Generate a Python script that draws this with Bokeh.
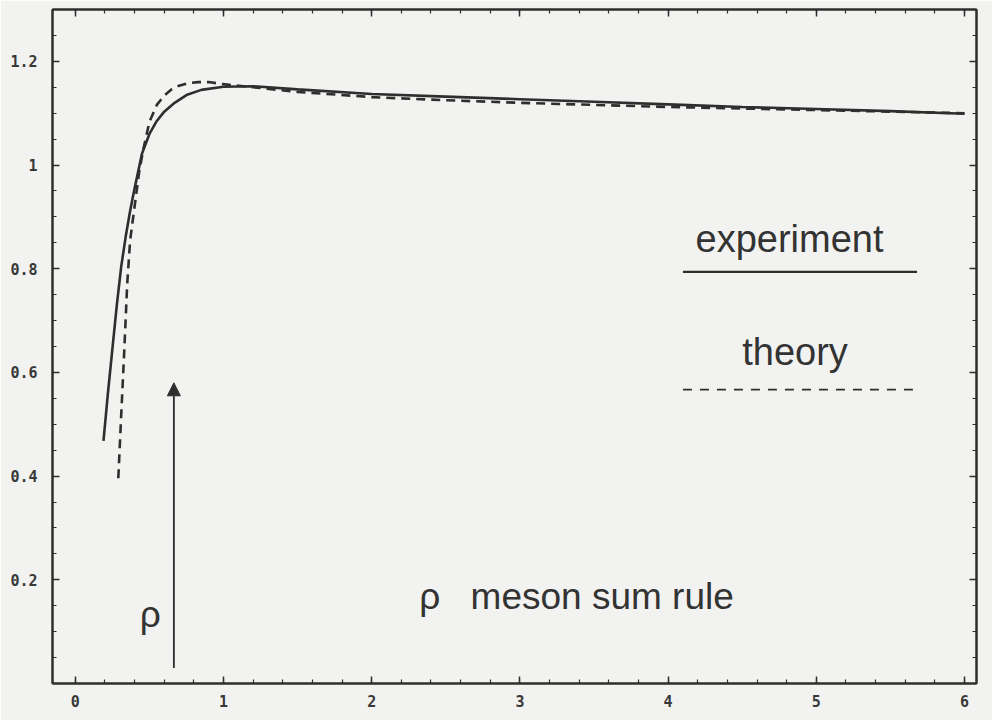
from bokeh.plotting import figure
from bokeh.models import (LinearAxis, FixedTicker, Arrow, NormalHead, Range1d,
                          CustomLabelingPolicy)
from bokeh.core.properties import value
from bokeh.embed import file_html
from bokeh.resources import INLINE
import numpy as np

# rho meson sum rule: experiment vs theory
exp_x = [0.19, 0.22, 0.25, 0.28, 0.31, 0.34, 0.37, 0.40, 0.45, 0.50, 0.55, 0.60,
         0.67, 0.75, 0.85, 1.0, 1.2, 1.5, 2.0, 2.5, 3.0, 3.5, 4.0, 4.5, 5.0, 5.5, 6.0]
exp_y = [0.468, 0.56, 0.645, 0.73, 0.805, 0.862, 0.912, 0.955, 1.022, 1.06, 1.085, 1.103,
         1.12, 1.135, 1.145, 1.151, 1.152, 1.146, 1.137, 1.132, 1.127, 1.122, 1.117,
         1.112, 1.108, 1.104, 1.099]

thy_x = [0.29, 0.31, 0.33, 0.35, 0.37, 0.40, 0.43, 0.46, 0.50, 0.55, 0.60, 0.65,
         0.70, 0.76, 0.83, 0.90, 1.0, 1.2, 1.5, 2.0, 2.5, 3.0, 3.5, 4.0, 4.5, 5.0, 5.5, 6.0]
thy_y = [0.396, 0.52, 0.64, 0.77, 0.855, 0.92, 0.985, 1.032, 1.083, 1.116, 1.134, 1.146,
         1.153, 1.158, 1.160, 1.160, 1.156, 1.150, 1.141, 1.131, 1.125, 1.120, 1.116,
         1.112, 1.109, 1.106, 1.103, 1.100]

# rho mass marker
rho_x = 0.665
rho_y0, rho_y1 = 0.03, 0.58

# legend samples
legend_x = [4.10, 5.68]
legend_exp_y = 0.794
legend_thy_y = 0.567

x_ticks = [0, 1, 2, 3, 4, 5, 6]
y_ticks = [0.2, 0.4, 0.6, 0.8, 1.0, 1.2]
y_labels = ["0.2", "0.4", "0.6", "0.8", "1", "1.2"]

x_minor = [round(v, 2) for v in np.arange(0, 6.01, 0.2)]
y_minor = [round(v, 2) for v in np.arange(0.05, 1.30, 0.05)]

BG = "#f2f2f0"
INK = "#2e2e2e"

p = figure(width=992, height=720, output_backend="svg", toolbar_location=None,
           x_range=Range1d(-0.154, 6.081), y_range=Range1d(0.0, 1.30),
           min_border_left=52, min_border_right=16, min_border_top=9, min_border_bottom=37,
           background_fill_color=BG, border_fill_color=BG)
p.grid.visible = False
p.outline_line_color = INK
p.outline_line_width = 2

# frame sides without numbers: keep the ticks, drop every label
no_labels = CustomLabelingPolicy(code="return new Set()")


def style_axis(ax, show_labels):
    ax.axis_line_color = INK
    ax.axis_line_width = 2
    ax.major_tick_line_color = INK
    ax.minor_tick_line_color = INK
    ax.major_tick_line_width = 1.5
    ax.minor_tick_line_width = 1.2
    ax.major_tick_in = 7
    ax.major_tick_out = 0
    ax.minor_tick_in = 4
    ax.minor_tick_out = 0
    ax.major_label_text_font = "DejaVu Sans Mono"
    ax.major_label_text_font_style = "bold"
    ax.major_label_text_font_size = "15px"
    ax.major_label_text_color = "#383838"
    if not show_labels:
        ax.major_label_policy = no_labels
        ax.major_label_standoff = 0
        ax.major_label_text_font_size = "1px"


p.xaxis.ticker = FixedTicker(ticks=x_ticks, minor_ticks=x_minor)
p.yaxis.ticker = FixedTicker(ticks=y_ticks, minor_ticks=y_minor)
style_axis(p.xaxis[0], True)
style_axis(p.yaxis[0], True)
p.xaxis.major_label_standoff = 11
p.yaxis.major_label_standoff = 15
p.yaxis.major_label_overrides = {t: s for t, s in zip(y_ticks, y_labels)}

top = LinearAxis(ticker=FixedTicker(ticks=x_ticks, minor_ticks=x_minor))
style_axis(top, False)
p.add_layout(top, "above")
right = LinearAxis(ticker=FixedTicker(ticks=y_ticks, minor_ticks=y_minor))
style_axis(right, False)
p.add_layout(right, "right")

# curves
p.line(exp_x, exp_y, line_color=INK, line_width=2.6)
p.line(thy_x, thy_y, line_color=INK, line_width=2.6, line_dash="9 6")

# legend samples and labels
p.line(legend_x, [legend_exp_y, legend_exp_y], line_color=INK, line_width=2.2)
p.line(legend_x, [legend_thy_y, legend_thy_y], line_color=INK, line_width=1.8, line_dash="9 8")

font = value("Liberation Sans")
TXT = "#333333"
p.text(x=[4.185], y=[0.857], text=["experiment"], text_font=font, text_font_size="38px",
       text_color=TXT, text_baseline="alphabetic", text_align="left")
p.text(x=[4.50], y=[0.640], text=["theory"], text_font=font, text_font_size="38px",
       text_color=TXT, text_baseline="alphabetic", text_align="left")
p.text(x=[2.32], y=[0.168], text=["ρ"], text_font=font, text_font_size="37px",
       text_color=TXT, text_baseline="alphabetic", text_align="left")
p.text(x=[2.667], y=[0.167], text=["meson sum rule"], text_font=font, text_font_size="37px",
       text_color=TXT, text_baseline="alphabetic", text_align="left")
p.text(x=[0.435], y=[0.133], text=["ρ"], text_font=font, text_font_size="37px",
       text_color=TXT, text_baseline="alphabetic", text_align="left")

# arrow marking the rho mass
p.add_layout(Arrow(x_start=rho_x, y_start=rho_y0, x_end=rho_x, y_end=rho_y1,
                   line_color=INK, line_width=1.8,
                   end=NormalHead(size=13, fill_color=INK, line_color=INK, line_width=1)))

open("out.html", "w").write(file_html(p, INLINE))
